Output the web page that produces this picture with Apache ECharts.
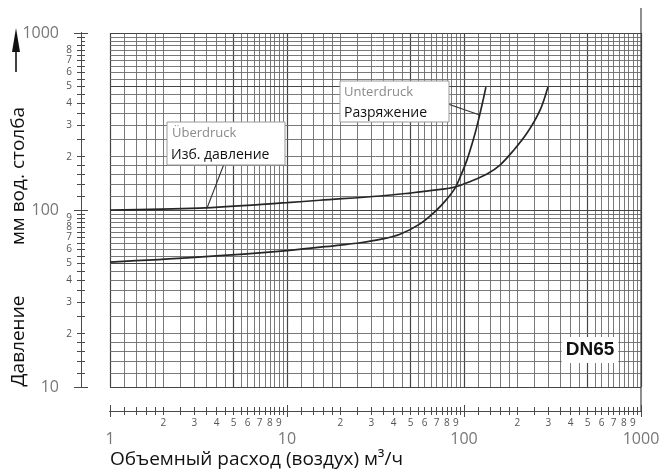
<!DOCTYPE html>
<html><head><meta charset="utf-8">
<script src="https://cdn.jsdelivr.net/npm/echarts@6/dist/echarts.min.js"></script>
<style>html,body{margin:0;padding:0;background:#fff}#c{width:663px;height:470px}</style>
</head><body><div id="c"></div>
<script>
// ---- data ----
const overFlow   = [1, 3.2, 10, 15.3, 33.6, 49.5, 70.1, 89, 109.5, 134.9, 159.7, 189.2, 227, 269, 298];
const overPress  = [100, 102.5, 110, 113.5, 120, 124.7, 129.8, 134.9, 145.5, 159.7, 179.5, 215.4, 272, 367, 495];
const underFlow  = [1, 3, 10, 20, 25.9, 33.6, 43.5, 56.4, 70.1, 79.1, 89, 96.2, 104, 111, 118, 126, 133];
const underPress = [50.8, 54, 59, 63.4, 65.3, 68.2, 73, 83.5, 100, 113.7, 133, 157.8, 192, 236, 294, 387, 495];
const xDecades = [1, 10, 100];
const yDecades = [10, 100];
const subdivisions = [1.2,1.4,1.6,1.8,2,2.5,3,3.5,4,4.5,5,5.5,6,6.5,7,7.5,8,8.5,9,9.5];
const boldSubdivisions = [5];
const labelDigits = [2,3,4,5,6,7,8,9];
const xMajorLabels = [1, 10, 100, 1000];
const yMajorLabels = [10, 100, 1000];
const xRange = [1, 1000];
const yRange = [10, 1000];

const log10 = Math.log10;
const chart = echarts.init(document.getElementById('c'));

function gridValues(decs, last) {
  const out = [];
  decs.forEach(d => {
    out.push({v: d, major: true});
    subdivisions.forEach(s => out.push({v: d * s, major: boldSubdivisions.includes(s)}));
  });
  out.push({v: last, major: true});
  return out;
}
const xGrid = gridValues(xDecades, xRange[1]);
const yGrid = gridValues(yDecades, yRange[1]);
const lineMajor = {color: '#454545', width: 1.2, type: 'solid'};
const lineMinor = {color: '#6a6a6a', width: 0.9, type: 'solid'};
const gridMarks = xGrid.map(g => ({xAxis: g.v, lineStyle: g.major ? lineMajor : lineMinor}))
  .concat(yGrid.map(g => ({yAxis: g.v, lineStyle: g.major ? lineMajor : lineMinor})));

const xMinorTicks = xGrid.map(g => log10(g.v));
const yMinorTicks = yGrid.map(g => log10(g.v));
const xDigitPos = [].concat(...xDecades.map(d => labelDigits.map(k => log10(d * k))));
const yDigitPos = [].concat(...yDecades.map(d => labelDigits.map(k => log10(d * k))));
const xMajorPos = xMajorLabels.map(log10);
const yMajorPos = yMajorLabels.map(log10);
const digitFmt = v => String(Math.round(Math.pow(10, v - Math.floor(v + 1e-9))));
const majorFmt = v => String(Math.round(Math.pow(10, v)));
const FONT = 'Open Sans';
const AX = '#4a4a4a';

function decoX(tickVals, tickInside, tickLen, labelVals, labelFmt, labelOpt) {
  return {
    gridIndex: 1, type: 'value', min: log10(xRange[0]), max: log10(xRange[1]), position: 'bottom',
    axisLine: {show: true, onZero: false, lineStyle: {color: AX, width: 1}},
    axisTick: {show: true, inside: tickInside, length: tickLen, customValues: tickVals, lineStyle: {color: AX, width: 1}},
    axisLabel: labelVals ? Object.assign({show: true, customValues: labelVals, formatter: labelFmt, fontFamily: FONT}, labelOpt) : {show: false},
    splitLine: {show: false}
  };
}
function decoY(tickVals, tickInside, tickLen, labelVals, labelFmt, labelOpt) {
  return {
    gridIndex: 2, type: 'value', min: log10(yRange[0]), max: log10(yRange[1]), position: 'left',
    axisLine: {show: true, onZero: false, lineStyle: {color: AX, width: 1}},
    axisTick: {show: true, inside: tickInside, length: tickLen, customValues: tickVals, lineStyle: {color: AX, width: 1}},
    axisLabel: labelVals ? Object.assign({show: true, customValues: labelVals, formatter: labelFmt, fontFamily: FONT}, labelOpt) : {show: false},
    splitLine: {show: false}
  };
}

const option = {
  animation: false,
  backgroundColor: '#fff',
  grid: [
    {left: 110, right: 22, top: 33, bottom: 83},
    {left: 110, right: 22, top: 33, bottom: 59},
    {left: 81, width: 10, top: 33, bottom: 83}
  ],
  xAxis: [
    {gridIndex: 0, type: 'log', logBase: 10, min: xRange[0], max: xRange[1], show: false},
    decoX(xMinorTicks, false, 4, xDigitPos, digitFmt, {fontSize: 10, color: '#555', margin: 7}),
    decoX(xMinorTicks, true, 4, xMajorPos, majorFmt, {fontSize: 16, color: '#777', margin: 20}),
    decoX(xMajorPos, false, 6, null),
    decoX(xMajorPos, true, 6, null),
    {gridIndex: 2, type: 'value', min: 0, max: 1, show: false}
  ],
  yAxis: [
    {gridIndex: 0, type: 'log', logBase: 10, min: yRange[0], max: yRange[1], show: false},
    {gridIndex: 1, type: 'value', min: 0, max: 1, show: false},
    decoY(yMinorTicks, false, 4, yDigitPos, digitFmt, {fontSize: 10, color: '#555', margin: 9}),
    decoY(yMinorTicks, true, 4, yMajorPos, majorFmt, {fontSize: 16, color: '#777', margin: 22}),
    decoY(yMajorPos, false, 7, null),
    decoY(yMajorPos, true, 7, null)
  ],
  series: [
    {
      type: 'line', xAxisIndex: 0, yAxisIndex: 0, data: [[xRange[0], yRange[0]]], showSymbol: false, z: 1,
      lineStyle: {opacity: 0}, silent: true,
      markLine: {silent: true, symbol: ['none', 'none'], label: {show: false}, animation: false, data: gridMarks}
    },
    {
      name: 'Überdruck', type: 'line', xAxisIndex: 0, yAxisIndex: 0, z: 5, smooth: 0.35, showSymbol: false,
      data: overFlow.map((x, i) => [x, overPress[i]]), lineStyle: {color: '#262626', width: 1.7}
    },
    {
      name: 'Unterdruck', type: 'line', xAxisIndex: 0, yAxisIndex: 0, z: 5, smooth: 0.35, showSymbol: false,
      data: underFlow.map((x, i) => [x, underPress[i]]), lineStyle: {color: '#262626', width: 1.7}
    }
  ]
};
chart.setOption(option);

const P = (x, y) => chart.convertToPixel({xAxisIndex: 0, yAxisIndex: 0}, [x, y]);
const rightX = P(xRange[1], yRange[0])[0];
const lead1 = P(3.53, 102.3);
const lead2 = P(121.5, 345);

chart.setOption({
  graphic: [
    {type: 'line', shape: {x1: rightX, y1: 8, x2: rightX, y2: 412}, style: {stroke: '#444', lineWidth: 1.2}, z: 10},
    {type: 'line', shape: {x1: 16, y1: 72, x2: 16, y2: 48}, style: {stroke: '#111', lineWidth: 1.6}, z: 10},
    {type: 'polygon', shape: {points: [[16, 28], [12, 52], [20, 52]]}, style: {fill: '#111'}, z: 10},
    {type: 'text', x: 19, y: 341, rotation: Math.PI / 2, z: 10,
     style: {text: 'Давление', fontSize: 19, fontFamily: FONT, fill: '#111', align: 'center', verticalAlign: 'middle'}},
    {type: 'text', x: 19, y: 176, rotation: Math.PI / 2, z: 10,
     style: {text: 'мм вод. столба', fontSize: 19, fontFamily: FONT, fill: '#111', align: 'center', verticalAlign: 'middle'}},
    {type: 'text', x: 110, y: 460, z: 10,
     style: {text: 'Объемный расход (воздух) м³/ч', fontSize: 19, fontFamily: FONT, fill: '#111', align: 'left', verticalAlign: 'middle'}},
    {type: 'line', shape: {x1: 224, y1: 164, x2: lead1[0], y2: lead1[1]}, style: {stroke: '#333', lineWidth: 1.1}, z: 10},
    {type: 'rect', shape: {x: 167, y: 122, width: 118, height: 43}, style: {fill: '#fff', stroke: '#999', lineWidth: 1}, z: 11},
    {type: 'text', x: 172, y: 133, z: 12, style: {text: 'Überdruck', fontSize: 13, fontFamily: FONT, fill: '#8a8a8a', verticalAlign: 'middle'}},
    {type: 'text', x: 171, y: 155, z: 12, style: {text: 'Изб. давление', fontSize: 14, fontFamily: FONT, fill: '#111', verticalAlign: 'middle'}},
    {type: 'line', shape: {x1: 448, y1: 104, x2: lead2[0], y2: lead2[1]}, style: {stroke: '#333', lineWidth: 1.1}, z: 10},
    {type: 'rect', shape: {x: 340, y: 81, width: 109, height: 41}, style: {fill: '#fff', stroke: '#999', lineWidth: 1}, z: 11},
    {type: 'text', x: 344, y: 92, z: 12, style: {text: 'Unterdruck', fontSize: 13, fontFamily: FONT, fill: '#8a8a8a', verticalAlign: 'middle'}},
    {type: 'text', x: 344, y: 113, z: 12, style: {text: 'Разряжение', fontSize: 14, fontFamily: FONT, fill: '#111', verticalAlign: 'middle'}},
    {type: 'text', x: 590, y: 350, z: 12,
     style: {text: 'DN65', fontSize: 19, fontWeight: 'bold', fontFamily: 'Liberation Sans', fill: '#111', align: 'center', verticalAlign: 'middle',
             backgroundColor: '#fff', padding: [4, 4, 3, 4]}}
  ]
});
</script>
</body></html>
